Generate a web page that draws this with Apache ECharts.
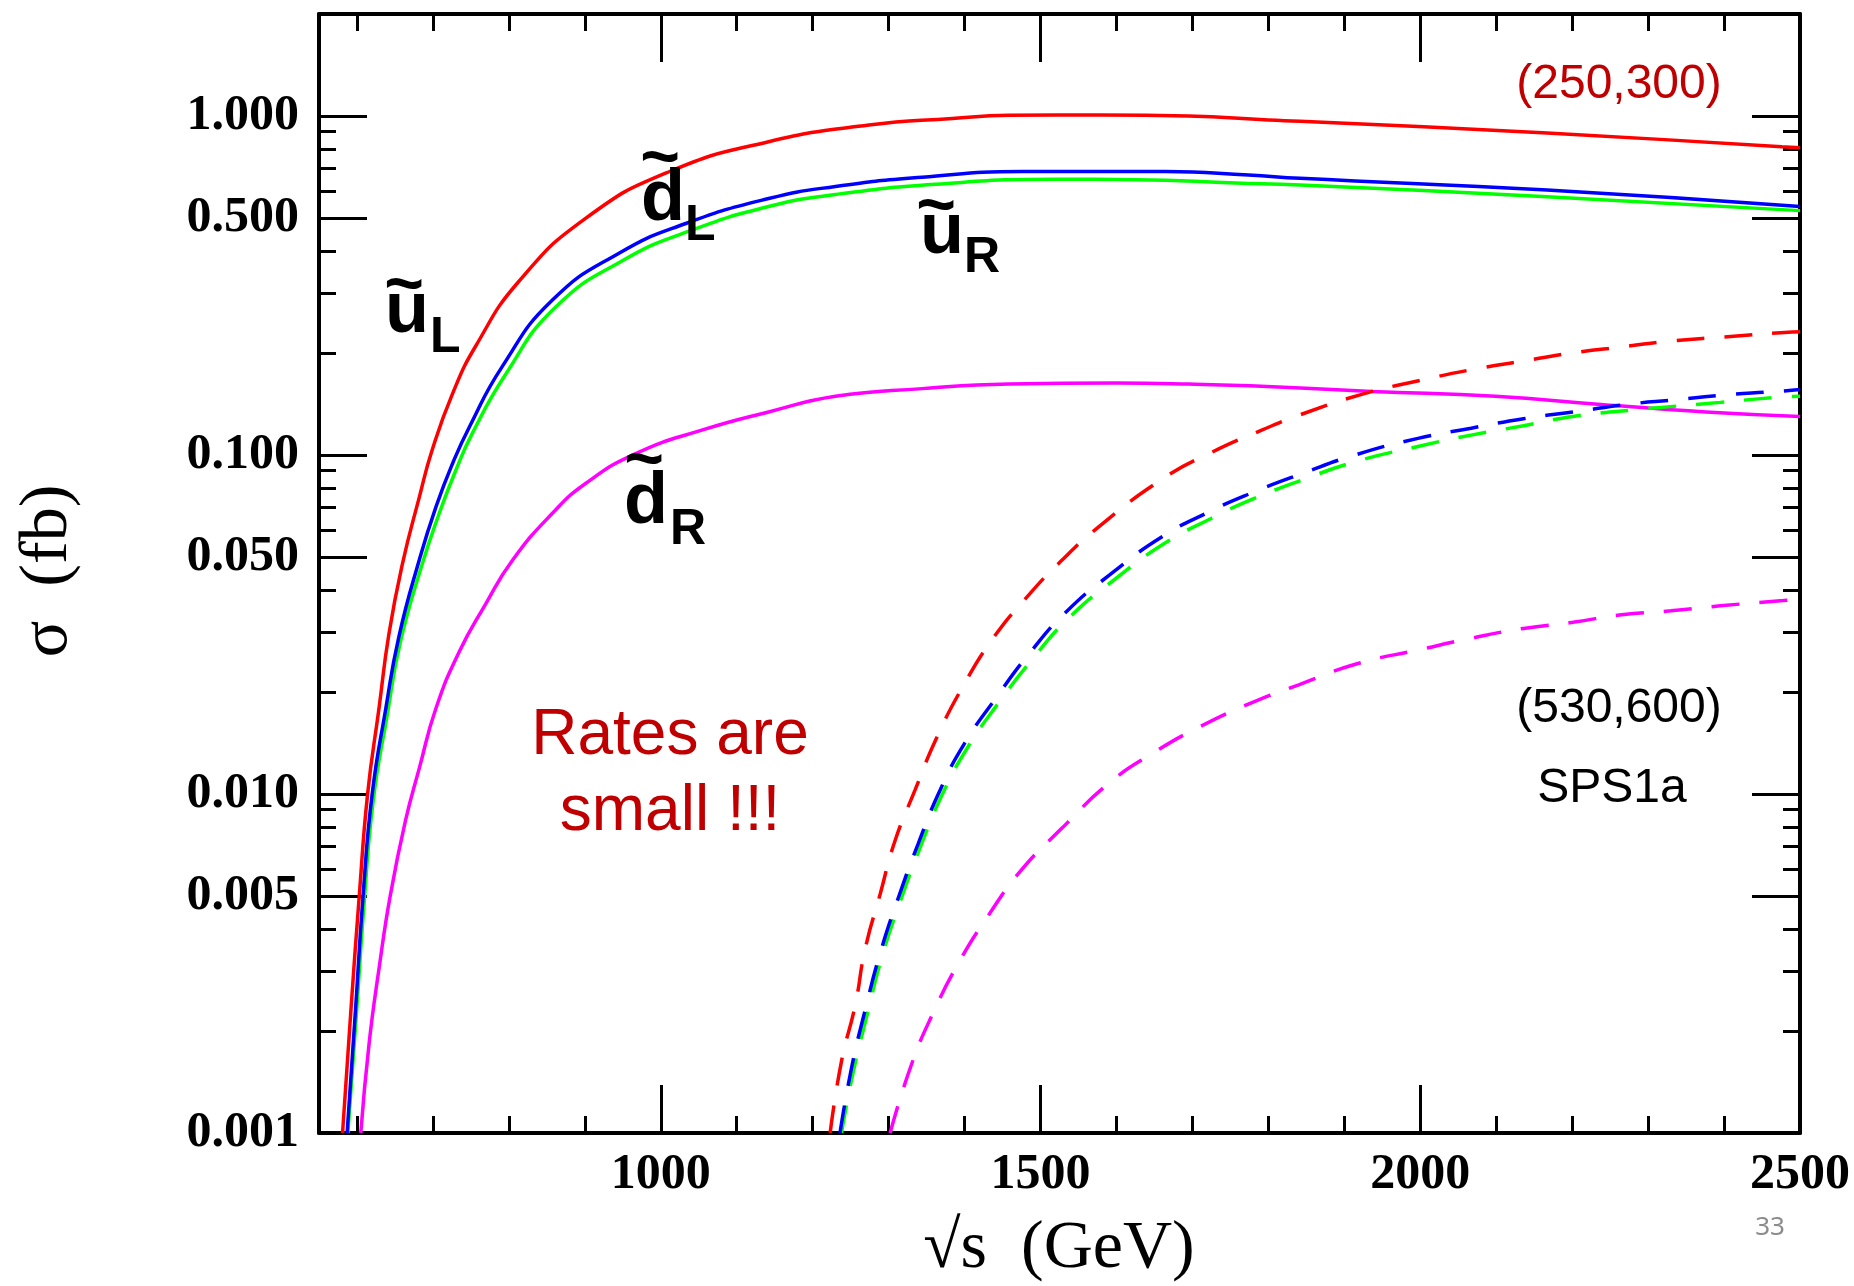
<!DOCTYPE html>
<html>
<head>
<meta charset="utf-8">
<script src="https://cdn.jsdelivr.net/npm/echarts@6/dist/echarts.min.js"></script>
<style>
html,body{margin:0;padding:0;background:#ffffff;}
#chart{width:1854px;height:1286px;}
</style>
</head>
<body>
<div id="chart"></div>
<script>
// ---------- axis ranges and ticks ----------
const X_MIN = 550, X_MAX = 2500;
const Y_MIN = 0.001, Y_MAX = 2;
const xMajorTicks = [1000, 1500, 2000, 2500];
const xMinorTicks = [600, 700, 800, 900, 1100, 1200, 1300, 1400, 1600, 1700, 1800, 1900, 2100, 2200, 2300, 2400];
const yMajorTicks = [0.001, 0.005, 0.01, 0.05, 0.1, 0.5, 1];
const yMinorTicks = [0.002, 0.003, 0.004, 0.006, 0.007, 0.008, 0.009,
                     0.02, 0.03, 0.04, 0.06, 0.07, 0.08, 0.09,
                     0.2, 0.3, 0.4, 0.6, 0.7, 0.8, 0.9];

// ---------- (250,300) solid curves ----------
const uL_x = [581, 592, 603, 614, 629, 642, 660, 682, 699, 726, 756, 813, 901, 1011, 1142, 1274, 1384, 1458, 1581, 1695, 1800, 1842, 2167, 2476, 2500];
const uL_y = [0.001, 0.0023, 0.005, 0.01, 0.0179, 0.0296, 0.0479, 0.075, 0.1035, 0.152, 0.209, 0.325, 0.499, 0.685, 0.840, 0.941, 0.984, 1.005, 1.007, 1.000, 0.973, 0.965, 0.891, 0.812, 0.806];

const dL_x = [587, 598, 608, 620, 638, 655, 682, 704, 726, 748, 791, 857, 945, 1033, 1142, 1230, 1344, 1476, 1665, 1774, 1842, 2167, 2500];
const dL_y = [0.001, 0.0023, 0.005, 0.01, 0.0179, 0.029, 0.049, 0.0703, 0.0946, 0.121, 0.182, 0.286, 0.394, 0.482, 0.571, 0.620, 0.660, 0.686, 0.686, 0.670, 0.655, 0.605, 0.541];

const uR_x = [588, 599, 609.5, 621.5, 640, 657, 685, 708, 730, 752, 795, 860, 950, 1040, 1142, 1230, 1362, 1520, 1625, 1757, 1842, 2167, 2500];
const uR_y = [0.001, 0.0022, 0.0048, 0.0096, 0.0172, 0.028, 0.047, 0.067, 0.090, 0.116, 0.172, 0.271, 0.375, 0.460, 0.541, 0.587, 0.629, 0.651, 0.649, 0.635, 0.626, 0.578, 0.526];

const dR_x = [605, 616, 629, 644, 664, 682, 704, 734, 769, 805, 857, 901, 967, 1055, 1142, 1230, 1344, 1458, 1600, 1695, 1776, 1937, 2099, 2238, 2376, 2500];
const dR_y = [0.001, 0.00184, 0.00305, 0.00504, 0.00837, 0.0119, 0.0179, 0.0261, 0.0362, 0.049, 0.0672, 0.0824, 0.101, 0.1186, 0.134, 0.149, 0.157, 0.162, 0.163, 0.162, 0.160, 0.154, 0.149, 0.141, 0.134, 0.130];

// ---------- (530,600) dashed curves ----------
const uL2_x = [1223, 1238, 1256, 1269, 1289, 1308, 1335, 1363, 1398, 1438, 1482, 1526, 1577, 1662, 1726, 1792, 1840, 1923, 2000, 2070, 2140, 2200, 2270, 2330, 2400, 2480, 2500];
const uL2_y = [0.001, 0.00163, 0.00238, 0.00348, 0.00508, 0.00723, 0.0103, 0.0146, 0.0208, 0.0289, 0.0381, 0.0484, 0.0615, 0.0854, 0.102, 0.1186, 0.131, 0.151, 0.166, 0.179, 0.190, 0.200, 0.209, 0.217, 0.223, 0.230, 0.231];

const dL2_x = [1236, 1251, 1269, 1289, 1313, 1339, 1368, 1400, 1442, 1486, 1534, 1591, 1660, 1722, 1776, 1845, 1914, 1997, 2067, 2136, 2201, 2284, 2330, 2395, 2469, 2500];
const dL2_y = [0.001, 0.00155, 0.0023, 0.0034, 0.00496, 0.00714, 0.0103, 0.0141, 0.0193, 0.0261, 0.0345, 0.0443, 0.0574, 0.068, 0.077, 0.0883, 0.100, 0.112, 0.120, 0.128, 0.134, 0.142, 0.145, 0.150, 0.154, 0.156];

const uR2_x = [1238, 1253, 1271, 1291, 1315, 1341, 1370, 1403, 1445, 1490, 1538, 1595, 1664, 1726, 1776, 1845, 1914, 1997, 2067, 2136, 2201, 2284, 2395, 2469, 2500];
const uR2_y = [0.001, 0.0015, 0.0022, 0.0033, 0.0048, 0.0069, 0.0099, 0.0136, 0.0186, 0.0251, 0.0332, 0.0425, 0.0550, 0.0652, 0.0736, 0.0845, 0.0955, 0.106, 0.1145, 0.122, 0.130, 0.136, 0.143, 0.148, 0.149];

const dR2_x = [1302, 1330, 1359, 1394, 1431, 1473, 1530, 1591, 1648, 1710, 1776, 1840, 1919, 1997, 2067, 2136, 2201, 2265, 2330, 2395, 2478, 2500];
const dR2_y = [0.001, 0.00159, 0.00227, 0.00323, 0.00437, 0.0059, 0.0080, 0.0108, 0.0132, 0.0158, 0.0185, 0.0210, 0.0243, 0.0266, 0.0288, 0.0308, 0.0321, 0.0338, 0.0347, 0.0359, 0.0372, 0.0375];

// ---------- helpers ----------
function zip(xs, ys) { return xs.map((x, i) => [x, ys[i]]); }

const RED = '#ff0000', BLUE = '#0000ff', GREEN = '#00ff00', MAGENTA = '#ff00ff';
const DASH = [28, 20];

function lineSeries(name, xs, ys, color, dashed) {
  return {
    name: name,
    type: 'line',
    xAxisIndex: 0,
    yAxisIndex: 0,
    data: zip(xs, ys),
    showSymbol: false,
    symbol: 'none',
    smooth: 0.5,
    clip: true,
    silent: true,
    lineStyle: { color: color, width: 3.5, type: dashed ? DASH : 'solid' },
    z: 3
  };
}

const series = [
  lineSeries('dR (250,300)', dR_x, dR_y, MAGENTA, false),
  lineSeries('uR (250,300)', uR_x, uR_y, GREEN, false),
  lineSeries('dL (250,300)', dL_x, dL_y, BLUE, false),
  lineSeries('uL (250,300)', uL_x, uL_y, RED, false),
  lineSeries('dR (530,600)', dR2_x, dR2_y, MAGENTA, true),
  lineSeries('uR (530,600)', uR2_x, uR2_y, GREEN, true),
  lineSeries('dL (530,600)', dL2_x, dL2_y, BLUE, true),
  lineSeries('uL (530,600)', uL2_x, uL2_y, RED, true)
];

const TICK_FONT = { fontFamily: 'Liberation Serif', fontWeight: 'bold', fontSize: 50, color: '#000' };
const AXIS_LINE = { show: true, lineStyle: { color: '#000', width: 4 } };
const NO_LINE = { show: false };

function xAxisDef(position, ticks, len, showLabels, showLine) {
  return {
    type: 'value', position: position, min: X_MIN, max: X_MAX,
    axisLine: showLine ? AXIS_LINE : NO_LINE,
    axisTick: { show: true, inside: true, length: len, customValues: ticks, lineStyle: { color: '#000', width: 3 } },
    axisLabel: showLabels ? Object.assign({ show: true, customValues: ticks, margin: 17, formatter: v => String(v) }, TICK_FONT) : { show: false },
    splitLine: { show: false }, minorTick: { show: false }
  };
}
function yAxisDef(position, ticks, len, showLabels, showLine) {
  return {
    type: 'log', logBase: 10, position: position, min: Y_MIN, max: Y_MAX,
    axisLine: showLine ? AXIS_LINE : NO_LINE,
    axisTick: { show: true, inside: true, length: len, customValues: ticks, lineStyle: { color: '#000', width: 3 } },
    axisLabel: showLabels ? Object.assign({ show: true, customValues: ticks, margin: 20, formatter: v => Number(v).toFixed(3) }, TICK_FONT) : { show: false },
    splitLine: { show: false }, minorTick: { show: false }
  };
}

// ---------- annotations ----------
const SQ_FONT = 'Liberation Sans';
function squark(letter, sub, tilde, main, subPos) {
  return [
    { type: 'text', x: tilde[0], y: tilde[1], z: 10, style: { text: '~', fontFamily: SQ_FONT, fontWeight: 'bold', fontSize: 68, fill: '#000', align: 'center', verticalAlign: 'middle' } },
    { type: 'text', x: main[0], y: main[1], z: 10, style: { text: letter, fontFamily: SQ_FONT, fontWeight: 'bold', fontSize: 72, fill: '#000', align: 'left', verticalAlign: 'middle' } },
    { type: 'text', x: subPos[0], y: subPos[1], z: 10, style: { text: sub, fontFamily: SQ_FONT, fontWeight: 'bold', fontSize: 50, fill: '#000', align: 'left', verticalAlign: 'middle' } }
  ];
}

const graphics = [].concat(
  squark('u', 'L', [404, 287], [385, 312], [430, 338]),
  squark('d', 'L', [660, 160], [641, 200], [685, 226]),
  squark('u', 'R', [936, 208], [920, 233], [964, 258]),
  squark('d', 'R', [644, 462], [624, 503], [670, 530]),
  [
    { type: 'text', x: 1619, y: 85, z: 10, style: { text: '(250,300)', fontFamily: SQ_FONT, fontSize: 48, fill: '#c00000', align: 'center', verticalAlign: 'middle' } },
    { type: 'text', x: 1619, y: 709, z: 10, style: { text: '(530,600)', fontFamily: SQ_FONT, fontSize: 48, fill: '#000', align: 'center', verticalAlign: 'middle' } },
    { type: 'text', x: 1612, y: 789, z: 10, style: { text: 'SPS1a', fontFamily: SQ_FONT, fontSize: 48, fill: '#000', align: 'center', verticalAlign: 'middle' } },
    { type: 'text', x: 670, y: 774, z: 10, style: { text: 'Rates are\nsmall !!!', fontFamily: SQ_FONT, fontSize: 64, lineHeight: 76, fill: '#c00000', align: 'center', verticalAlign: 'middle' } },
    { type: 'text', x: 1059, y: 1249, z: 10, style: { text: '\u221As  (GeV)', fontFamily: 'Liberation Serif', fontSize: 68, fill: '#000', align: 'center', verticalAlign: 'middle' } },
    { type: 'text', x: 48, y: 571, rotation: Math.PI / 2, z: 10, style: { text: '\u03C3  (fb)', fontFamily: 'Liberation Serif', fontSize: 68, fill: '#000', align: 'center', verticalAlign: 'middle' } },
    { type: 'text', x: 1770, y: 1228, z: 10, style: { text: '33', fontFamily: 'Noto Sans', fontSize: 26, fill: '#8c8c8c', align: 'center', verticalAlign: 'middle' } }
  ]
);

const chart = echarts.init(document.getElementById('chart'), null, { renderer: 'canvas' });
chart.setOption({
  backgroundColor: '#ffffff',
  animation: false,
  grid: { left: 319, right: 54, top: 14, bottom: 153, containLabel: false, outerBoundsMode: 'none' },
  xAxis: [
    xAxisDef('bottom', xMajorTicks, 48, true, true),
    xAxisDef('bottom', xMinorTicks, 17, false, false),
    xAxisDef('top', xMajorTicks, 48, false, true),
    xAxisDef('top', xMinorTicks, 17, false, false)
  ],
  yAxis: [
    yAxisDef('left', yMajorTicks, 48, true, true),
    yAxisDef('left', yMinorTicks, 17, false, false),
    yAxisDef('right', yMajorTicks, 48, false, true),
    yAxisDef('right', yMinorTicks, 17, false, false)
  ],
  series: series,
  graphic: graphics
});
</script>
</body>
</html>
